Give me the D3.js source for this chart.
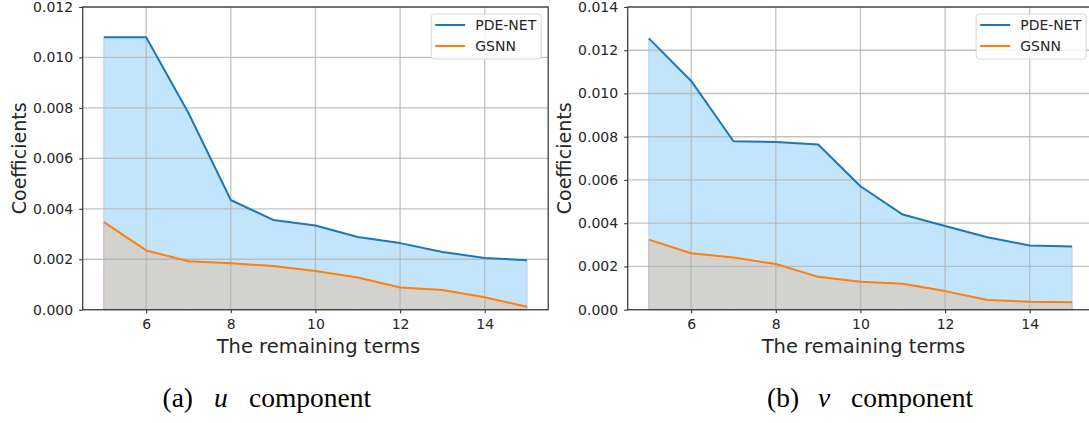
<!DOCTYPE html>
<html>
<head>
<meta charset="utf-8">
<script src="https://cdn.jsdelivr.net/npm/d3@7"></script>
<style>
  body { margin: 0; background: #fff; }
  svg { display: block; }
  .tick text { font-family: "DejaVu Sans", sans-serif; font-size: 14px; fill: #262626; }
</style>
</head>
<body>
<svg id="fig" width="1089" height="423"></svg>
<script>
// remaining terms on the x axis
const terms = [5, 6, 7, 8, 9, 10, 11, 12, 13, 14, 15];

// (a) u component
const uPdeNet = [0.0108, 0.0108, 0.0078, 0.00435, 0.00356, 0.00334, 0.00288, 0.00264, 0.00229, 0.00205, 0.00196];
const uGsnn   = [0.00347, 0.00235, 0.00192, 0.00184, 0.00173, 0.00153, 0.00128, 0.00088, 0.00078, 0.00049, 0.00012];

// (b) v component
const vPdeNet = [0.01255, 0.01058, 0.00779, 0.00776, 0.00764, 0.00571, 0.0044, 0.00387, 0.00335, 0.00297, 0.00292];
const vGsnn   = [0.00324, 0.00261, 0.00241, 0.00211, 0.00152, 0.00129, 0.0012, 0.00086, 0.00045, 0.00037, 0.00035];

const xTicks = [6, 8, 10, 12, 14];
const uYTicks = [0, 0.002, 0.004, 0.006, 0.008, 0.010, 0.012];
const vYTicks = [0, 0.002, 0.004, 0.006, 0.008, 0.010, 0.012, 0.014];

const seriesNames = ["PDE-NET", "GSNN"];
const seriesColors = ["#1f77b4", "#ff7f0e"];

const svg = d3.select("#fig");

function draw_panel(left, pde, gsnn, yTicks, letter, comp) {
  const plot = {left: left, right: left + 465.5, top: 7, bottom: 309.7};

  const x = d3.scaleLinear().domain([4.5, 15.5]).range([plot.left, plot.right]);
  const y = d3.scaleLinear().domain([0, d3.max(yTicks)]).range([plot.bottom, plot.top]);

  const g = svg.append("g");

  const pts = terms.map((t, i) => ({t: t, p: pde[i], g: gsnn[i]}));

  // filled areas
  g.append("path")
    .datum(pts)
    .attr("fill", "#c2e5fb")
    .attr("stroke", "#b3cdf2")
    .attr("stroke-width", 1)
    .attr("d", d3.area().x(d => x(d.t)).y0(y(0)).y1(d => y(d.p)));

  g.append("path")
    .datum(pts)
    .attr("fill", "#d2d3cf")
    .attr("stroke", "#d8b4bd")
    .attr("stroke-width", 1)
    .attr("d", d3.area().x(d => x(d.t)).y0(y(0)).y1(d => y(d.g)));

  // grid
  g.append("g")
    .selectAll("line")
    .data(xTicks)
    .join("line")
    .attr("x1", d => x(d)).attr("x2", d => x(d))
    .attr("y1", plot.top).attr("y2", plot.bottom)
    .attr("stroke", "#b0b0b0").attr("stroke-opacity", 0.75).attr("stroke-width", 1.3);

  g.append("g")
    .selectAll("line")
    .data(yTicks)
    .join("line")
    .attr("x1", plot.left).attr("x2", plot.right)
    .attr("y1", d => y(d)).attr("y2", d => y(d))
    .attr("stroke", "#b0b0b0").attr("stroke-opacity", 0.75).attr("stroke-width", 1.3);

  // lines
  [pde, gsnn].forEach(function(vals, ix) {
    g.append("path")
      .datum(vals)
      .attr("fill", "none")
      .attr("stroke", seriesColors[ix])
      .attr("stroke-width", 2)
      .attr("stroke-linejoin", "round")
      .attr("d", d3.line().x((d, i) => x(terms[i])).y(d => y(d)));
  });

  // axes
  const xAxis = g.append("g")
    .attr("transform", "translate(0," + plot.bottom + ")")
    .call(d3.axisBottom(x).tickValues(xTicks).tickSize(3.5).tickPadding(6).tickFormat(d3.format("d")));
  const yAxis = g.append("g")
    .attr("transform", "translate(" + plot.left + ",0)")
    .call(d3.axisLeft(y).tickValues(yTicks).tickSize(3.5).tickPadding(6).tickFormat(d3.format(".3f")));
  [xAxis, yAxis].forEach(function(a) {
    a.select(".domain").remove();
    a.selectAll(".tick line").attr("stroke", "#333").attr("stroke-width", 1.1);
  });

  // frame
  g.append("rect")
    .attr("x", plot.left).attr("y", plot.top)
    .attr("width", plot.right - plot.left).attr("height", plot.bottom - plot.top)
    .attr("fill", "none").attr("stroke", "#404040").attr("stroke-width", 1.3);

  // legend
  const lg = g.append("g").attr("transform", "translate(" + (plot.right - 117) + ",14)");
  lg.append("rect")
    .attr("width", 110).attr("height", 45).attr("rx", 3)
    .attr("fill", "#fff").attr("fill-opacity", 0.85)
    .attr("stroke", "#d9d9d9").attr("stroke-width", 1);
  seriesNames.forEach(function(name, ix) {
    const ly = 11 + ix * 21;
    lg.append("line")
      .attr("x1", 4).attr("x2", 34).attr("y1", ly).attr("y2", ly)
      .attr("stroke", seriesColors[ix]).attr("stroke-width", 2);
    lg.append("text")
      .attr("x", 44).attr("y", ly + 5)
      .attr("font-family", "DejaVu Sans").attr("font-size", 14).attr("fill", "#262626")
      .text(name);
  });

  // axis labels
  g.append("text")
    .attr("x", (plot.left + plot.right) / 2 + 3).attr("y", 353)
    .attr("text-anchor", "middle")
    .attr("font-family", "DejaVu Sans").attr("font-size", 19.5).attr("fill", "#262626")
    .text("The remaining terms");
  g.append("text")
    .attr("transform", "translate(" + (plot.left - 56.5) + "," + ((plot.top + plot.bottom) / 2) + ") rotate(-90)")
    .attr("text-anchor", "middle")
    .attr("font-family", "DejaVu Sans").attr("font-size", 19).attr("fill", "#262626")
    .text("Coefficients");

  // caption
  const cap = g.append("text")
    .attr("y", 406.5)
    .attr("font-family", "Liberation Serif, 'Times New Roman', serif").attr("font-size", 27.5).attr("fill", "#000");
  cap.append("tspan").attr("x", letter.x).text("(" + letter.t + ")");
  cap.append("tspan").attr("x", comp.x).attr("font-style", "italic").text(comp.t);
  cap.append("tspan").attr("x", comp.x + comp.gap).text("component");
}

draw_panel(82.7, uPdeNet, uGsnn, uYTicks, {x: 162.5, t: "a"}, {x: 214, t: "u", gap: 35});
draw_panel(627.7, vPdeNet, vGsnn, vYTicks, {x: 767, t: "b"}, {x: 818, t: "v", gap: 33});
</script>
</body>
</html>
